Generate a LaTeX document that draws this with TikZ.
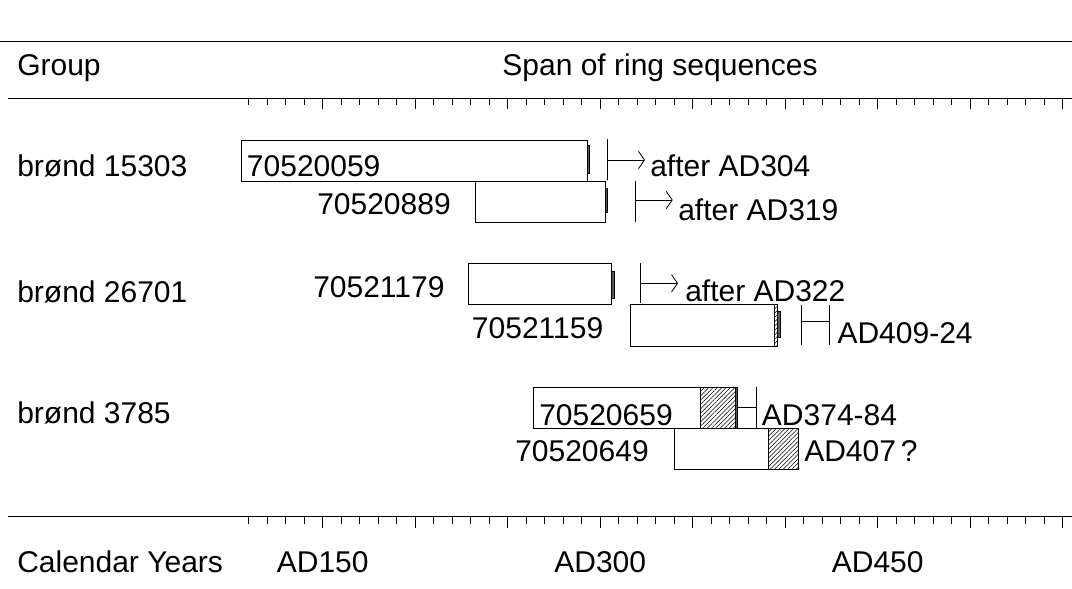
\documentclass[tikz,border=0pt]{standalone}
\usepackage{fontspec}
\setmainfont{Liberation Sans}
\usetikzlibrary{arrows.meta,patterns.meta}

\tikzset{
  lbl/.style={anchor=base west,inner sep=0pt,font=\fontsize{22.5}{27}\selectfont},
  ctr/.style={anchor=base,inner sep=0pt,font=\fontsize{22.5}{27}\selectfont},
  seq/.style={draw,line width=0.6pt,fill=white},
  sapwood/.style={draw,line width=0.5pt,pattern={Lines[angle=45,distance=2.3pt,line width=0.4pt]}},
  edgebar/.style={draw,line width=0.4pt,fill=black!65},
  dateline/.style={line width=0.6pt},
  felling/.style={line width=0.6pt,-{Straight Barb[length=4.5pt,width=13pt,line width=0.6pt]}}
}

\begin{document}
\begin{tikzpicture}[x=0.75pt,y=0.75pt,yscale=-1,xscale=1]
    \useasboundingbox (0,0) rectangle (1072,589);

    % rules
    \draw [line width=0.6pt] (0,41) -- (1072,41) ;
    \draw [line width=0.6pt] (8,98) -- (1072,98) ;
    \draw [line width=0.6pt] (8,516.5) -- (1072,516.5) ;
    % ticks every 10 years, AD110 to AD550
    \foreach \yr in {110,120,...,550}{
      \pgfmathsetmacro{\tx}{322.7+(\yr-150)*1.85}
      \pgfmathtruncatemacro{\big}{mod(\yr,50)==0}
      \ifnum\big=1
        \draw [line width=0.9pt] (\tx,98) -- (\tx,109) ;
        \draw [line width=0.9pt] (\tx,516.5) -- (\tx,527.5) ;
      \else
        \draw [line width=0.6pt] (\tx,98) -- (\tx,105) ;
        \draw [line width=0.6pt] (\tx,516.5) -- (\tx,523.5) ;
      \fi
    }

    % Text Node
    \node [lbl] (group) at (17,75) {Group};
    % Text Node
    \node [ctr] (span) at (660,75) {Span of ring sequences};
    % Text Node
    \node [lbl] (cal) at (17,572.7) {Calendar Years};
    \node [ctr] (ad150) at (322.7,572.7) {AD150};
    \node [ctr] (ad300) at (600.2,572.7) {AD300};
    \node [ctr] (ad450) at (877.7,572.7) {AD450};

    % Text Node
    \node [lbl] (g15303) at (17,176.7) {brønd 15303};
    \node [lbl] (g26701) at (17,302) {brønd 26701};
    \node [lbl] (g3785) at (17,423) {brønd 3785};

    %Shape: Rectangle 70520059
    \draw [seq] (241,140) rectangle (587,181) ;
    \draw [edgebar] (587,145) rectangle (589.5,173) ;
    \node [lbl] (s059) at (246.7,176) {70520059};
    %Shape: Rectangle 70520889
    \draw [seq] (475,181) rectangle (605,222) ;
    \draw [edgebar] (605,188) rectangle (607.5,212) ;
    \node [lbl] (s889) at (317,214) {70520889};
    %Shape: Rectangle 70521179
    \draw [seq] (468,263) rectangle (611.5,304) ;
    \draw [edgebar] (611.5,271) rectangle (614,298) ;
    \node [lbl] (s179) at (313,297) {70521179};
    %Shape: Rectangle 70521159
    \draw [seq] (630,304) rectangle (774,346) ;
    \draw [sapwood] (774,304) rectangle (777.5,346) ;
    \draw [edgebar] (777.5,311) rectangle (780,337) ;
    \node [lbl] (s159) at (471.7,338) {70521159};
    %Shape: Rectangle 70520659
    \draw [seq] (533,387) rectangle (737,428) ;
    \draw [sapwood] (700,387) rectangle (735,428) ;
    \draw [edgebar] (735,387) rectangle (737.5,428) ;
    \node [lbl] (s659) at (539,425) {70520659};
    %Shape: Rectangle 70520649
    \draw [seq] (674,428) rectangle (798,469) ;
    \draw [sapwood] (768,428) rectangle (798,469) ;
    \node [lbl] (s649) at (515,461.7) {70520649};

    % felling dates
    \coordinate (m1t) at (607.7,139); \coordinate (m1b) at (607.7,180);
    \coordinate (m1) at (607.7,160); \coordinate (m1e) at (645,160);
    \draw [dateline] (m1t) -- (m1b) ;
    \draw [felling] (m1) -- (m1e) ;
    \node [lbl] (d304) at (650,176.5) {after AD304};

    \coordinate (m2t) at (635.7,181); \coordinate (m2b) at (635.7,221.7);
    \coordinate (m2) at (635.7,200); \coordinate (m2e) at (672.7,200);
    \draw [dateline] (m2t) -- (m2b) ;
    \draw [felling] (m2) -- (m2e) ;
    \node [lbl] (d319) at (678,220) {after AD319};

    \coordinate (m3t) at (640.7,263); \coordinate (m3b) at (640.7,303);
    \coordinate (m3) at (640.7,283.3); \coordinate (m3e) at (678,283.3);
    \draw [dateline] (m3t) -- (m3b) ;
    \draw [felling] (m3) -- (m3e) ;
    \node [lbl] (d322) at (685,301) {after AD322};

    \coordinate (m4t) at (801.7,305); \coordinate (m4b) at (801.7,345);
    \coordinate (m4) at (801.7,321.7); \coordinate (m4e) at (829.3,321.7);
    \coordinate (m4u) at (829.3,305); \coordinate (m4d) at (829.3,345);
    \draw [dateline] (m4t) -- (m4b) (m4) -- (m4e) (m4u) -- (m4d) ;
    \node [lbl] (d409) at (837.3,343) {AD409-24};

    \coordinate (m5) at (737.5,407.7); \coordinate (m5e) at (756,407.7);
    \coordinate (m5t) at (756,386.7); \coordinate (m5b) at (756,428.3);
    \draw [dateline] (m5) -- (m5e) (m5t) -- (m5b) ;
    \node [lbl] (d374) at (761.7,425) {AD374-84};

    \node [lbl] (d407) at (804,461.7) {AD407\,?};

\end{tikzpicture}
\end{document}
